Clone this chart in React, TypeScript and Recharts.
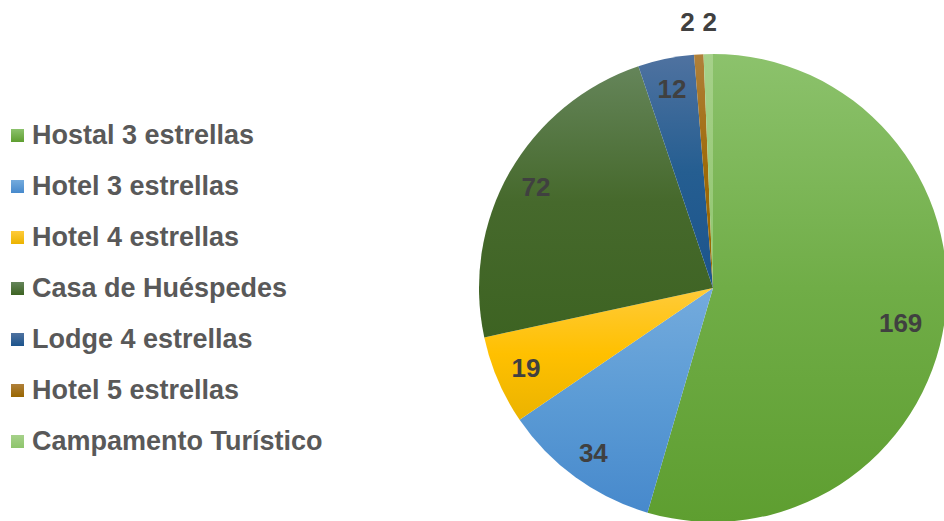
import { PieChart, Pie, Cell, Legend } from "recharts";

const categories = [
  "Hostal 3 estrellas",
  "Hotel 3 estrellas",
  "Hotel 4 estrellas",
  "Casa de Huéspedes",
  "Lodge 4 estrellas",
  "Hotel 5 estrellas",
  "Campamento Turístico",
];
const values = [169, 34, 19, 72, 12, 2, 2];

// [top, middle, bottom] of each slice's vertical gradient
const shades = [
  ["#8CC26C", "#70AD47", "#5E9E30"],
  ["#74ABDD", "#5B9BD5", "#4789CC"],
  ["#FFCB3A", "#FFC000", "#EBB300"],
  ["#65855A", "#46692C", "#3D6322"],
  ["#4F72A0", "#255E91", "#1C548C"],
  ["#B0803A", "#9E6A08", "#986600"],
  ["#A6D18A", "#9BCB7C", "#8EC56C"],
];

const data = categories.map((name, i) => ({ name, value: values[i] }));

const RADIAN = Math.PI / 180;
const FONT = '"Liberation Sans", Arial, sans-serif';

const renderLabel = (props: any) => {
  const { cx, cy, midAngle, outerRadius, value, index, percent } = props;
  const small = value < 5;
  // big slices get their label pulled further in, like Excel's best fit
  const r = small ? outerRadius + 32 : outerRadius * (percent > 0.4 ? 0.81 : 0.87);
  const x = cx + r * Math.cos(-midAngle * RADIAN);
  const y = cy + r * Math.sin(-midAngle * RADIAN);
  let anchor: "middle" | "start" | "end" = "middle";
  if (small) anchor = index % 2 === 1 ? "end" : "start";
  return (
    <text
      x={x + (small ? (index % 2 === 1 ? -2 : -5) : 0)}
      y={y + (percent > 0.4 ? 8 : 0)}
      textAnchor={anchor}
      dominantBaseline="central"
      fill="#404040"
      fontSize={26}
      fontWeight="bold"
      fontFamily={FONT}
    >
      {value}
    </text>
  );
};

const renderLegend = () => (
  <div style={{ fontFamily: FONT }}>
    {data.map((d, i) => (
      <div
        key={d.name}
        style={{ display: "flex", alignItems: "center", height: 51 }}
      >
        <span
          style={{
            display: "inline-block",
            width: 13,
            height: 13,
            marginLeft: 11,
            marginRight: 8,
            background: `linear-gradient(${shades[i][0]}, ${shades[i][2]})`,
          }}
        />
        <span style={{ fontSize: 27, fontWeight: "bold", color: "#595959", whiteSpace: "nowrap" }}>
          {d.name}
        </span>
      </div>
    ))}
  </div>
);

export default function App() {
  return (
    <div style={{ position: "absolute", left: 0, top: 0, width: 944, height: 521, background: "#fff" }}>
      <PieChart width={944} height={521} margin={{ top: 0, right: 0, bottom: 0, left: 0 }}>
        <defs>
          {shades.map((s, i) => (
            <linearGradient key={i} id={`grad${i}`} x1="0" y1="0" x2="0" y2="1">
              <stop offset="0%" stopColor={s[0]} />
              <stop offset="50%" stopColor={s[1]} />
              <stop offset="100%" stopColor={s[2]} />
            </linearGradient>
          ))}
        </defs>
        <Pie
          data={data}
          dataKey="value"
          nameKey="name"
          cx={713}
          cy={288}
          outerRadius={234}
          startAngle={90}
          endAngle={-270}
          stroke="none"
          label={renderLabel}
          labelLine={false}
          isAnimationActive={false}
        >
          {data.map((d, i) => (
            <Cell key={d.name} fill={`url(#grad${i})`} />
          ))}
        </Pie>
        <Legend
          layout="vertical"
          content={renderLegend}
          wrapperStyle={{ left: 0, top: 110, width: 340 }}
        />
      </PieChart>
    </div>
  );
}
